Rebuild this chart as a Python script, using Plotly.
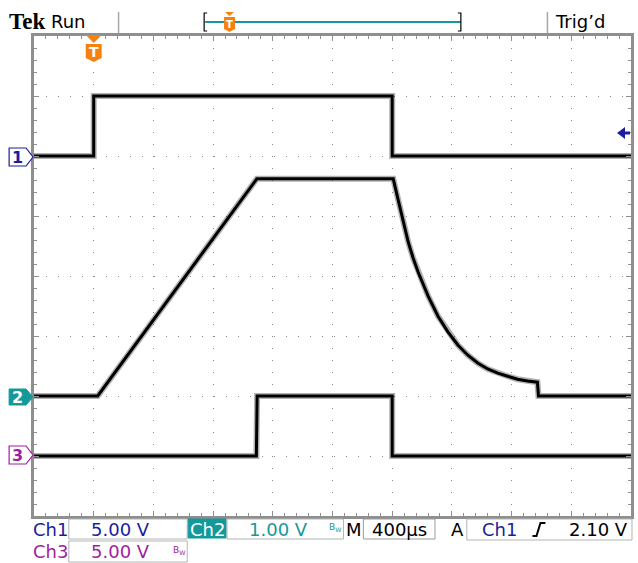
import plotly.graph_objects as go

# ---------------- data (read from the screen) ----------------
# time in microseconds (400 us/div, trigger 1 div from left)
ch1_t = [-400, 0, 0, 2000, 2000, 3600]
ch1_v = [0, 0, 5.0, 5.0, 0, 0]          # volts, 5 V/div

ch3_t = [-400, 1090, 1095, 2000, 2000, 3600]
ch3_v = [0, 0, 5.0, 5.0, 0, 0]          # volts, 5 V/div

ch2_t = [-400, 27, 1093, 2000, 2007, 2040, 2073, 2107, 2140, 2173, 2240, 2307,
         2373, 2440, 2507, 2573, 2640, 2707, 2773, 2840, 2907, 2973, 2980, 3600]
ch2_v = [0, 0, 3.62, 3.62, 3.62, 3.27, 2.90, 2.57, 2.30, 2.07, 1.67, 1.33,
         1.07, 0.85, 0.68, 0.55, 0.45, 0.38, 0.33, 0.28, 0.25, 0.23, 0, 0]

# ---------------- geometry helpers ----------------
W, H = 638, 563
L, T, PW, PH = 34, 36, 600, 480


def px(x):
    return (x - L) / PW


def py(y):
    return (T + PH - y) / PH


def path(pts, close=True):
    s = "M " + " L ".join(f"{px(x):.5f},{py(y):.5f}" for x, y in pts)
    return s + (" Z" if close else "")


BLUE = "#1c1c9e"
TEAL = "#14999a"
MAG = "#a01ea0"
ORANGE = "#f5820f"
GRID = "#8a8a8a"
FRAME = "#8f8f8f"
BOXC = "#b4b4b4"
FONT = "DejaVu Sans"

fig = go.Figure()
for t, v, ya in [(ch1_t, ch1_v, "y"), (ch2_t, ch2_v, "y2"), (ch3_t, ch3_v, "y3")]:
    fig.add_trace(go.Scatter(x=t, y=v, yaxis=ya, mode="lines",
                             line=dict(color="rgba(0,0,0,0.3)", width=6),
                             hoverinfo="skip", showlegend=False))
    fig.add_trace(go.Scatter(x=t, y=v, yaxis=ya, mode="lines",
                             line=dict(color="black", width=3),
                             hoverinfo="skip", showlegend=False))

fig.update_layout(
    width=W, height=H,
    margin=dict(l=L, r=W - L - PW, t=T, b=H - T - PH, pad=0),
    paper_bgcolor="white", plot_bgcolor="white",
    showlegend=False,
    xaxis=dict(range=[-400, 3600], dtick=400, tick0=0, showgrid=True,
               gridcolor=GRID, griddash="1px,11px", gridwidth=1,
               zeroline=False, showticklabels=False,
               showline=True, linecolor=FRAME, linewidth=3, mirror="ticks",
               ticks="inside", ticklen=5, tickcolor=FRAME, tickwidth=1,
               minor=dict(dtick=80, ticks="inside", ticklen=3, tickcolor=FRAME,
                          showgrid=False),
               fixedrange=True),
    yaxis=dict(range=[-30, 10], dtick=5, tick0=0, showgrid=True,
               gridcolor=GRID, griddash="1px,11px", gridwidth=1,
               zeroline=False, showticklabels=False,
               showline=True, linecolor=FRAME, linewidth=3, mirror="ticks",
               ticks="inside", ticklen=5, tickcolor=FRAME, tickwidth=1,
               minor=dict(dtick=1, ticks="inside", ticklen=3, tickcolor=FRAME,
                          showgrid=False),
               fixedrange=True),
    yaxis2=dict(range=[-2, 6], overlaying="y", visible=False, fixedrange=True),
    yaxis3=dict(range=[-5, 35], overlaying="y", visible=False, fixedrange=True),
)

shapes = []
ann = []


def text(x, y, s, color="black", size=18, xanchor="center", family=FONT, bold=False):
    if bold:
        s = f"<b>{s}</b>"
    ann.append(dict(x=px(x), y=py(y), xref="paper", yref="paper", text=s,
                    showarrow=False, xanchor=xanchor, yanchor="middle",
                    font=dict(color=color, size=size, family=family)))


def rect(x0, y0, x1, y1, line=BOXC, fill=None, width=1):
    shapes.append(dict(type="rect", xref="paper", yref="paper",
                       x0=px(x0), x1=px(x1), y0=py(y1), y1=py(y0),
                       line=dict(color=line, width=width),
                       fillcolor=fill if fill else "rgba(0,0,0,0)"))


def poly(pts, line=None, fill=None, width=1, close=True):
    shapes.append(dict(type="path", xref="paper", yref="paper", path=path(pts, close),
                       line=dict(color=line if line else "rgba(0,0,0,0)", width=width),
                       fillcolor=fill if fill else "rgba(0,0,0,0)"))


# ---------------- header ----------------
text(7, 21, "Tek", size=23, xanchor="left", family="Liberation Serif", bold=True)
text(49, 21, "Run", size=18, xanchor="left")
poly([(119, 12), (119, 33)], line="#a8a8a8", width=1.5, close=False)
poly([(550, 12), (550, 33)], line="#a8a8a8", width=1.5, close=False)
text(556, 21, "Trig’d", size=18, xanchor="left")
# record-length bar
poly([(206, 22), (463, 22)], line=TEAL, width=2, close=False)
poly([(208, 13), (205, 13), (205, 31), (208, 31)], line="black", width=1.2, close=False)
poly([(460, 13), (463, 13), (463, 31), (460, 31)], line="black", width=1.2, close=False)
poly([(226, 12), (235, 12), (230.5, 16)], fill=ORANGE)
poly([(225, 17), (236, 17), (236, 29), (230.5, 32), (225, 29)], fill=ORANGE)
text(230.5, 24, "T", color="white", size=10, bold=True)

# ---------------- trigger position marker ----------------
poly([(86, 35), (102, 35), (94, 43)], fill=ORANGE)
poly([(86, 44), (102, 44), (102, 58), (94, 62), (86, 58)], fill=ORANGE)
text(94, 52, "T", color="white", size=14, bold=True)

# ---------------- channel markers ----------------
poly([(9, 148), (26, 148), (33, 157), (26, 166), (9, 166)], line=BLUE, fill="white", width=1.2)
text(17, 157, "1", color=BLUE, size=16, bold=True)
poly([(9, 389), (26, 389), (33, 397), (26, 405), (9, 405)], line=TEAL, fill=TEAL, width=1)
text(17, 397, "2", color="white", size=16, bold=True)
poly([(9, 446), (26, 446), (33, 455), (26, 464), (9, 464)], line=MAG, fill="white", width=1.2)
text(17, 455, "3", color=MAG, size=16, bold=True)

# trigger level arrow (right)
poly([(620, 133), (628, 127), (628, 139)], fill=BLUE)
poly([(627, 133), (633, 133)], line=BLUE, width=3, close=False)

# ---------------- status bar ----------------
r1, r2 = 529, 551
text(31, r1, "Ch1", color=BLUE, size=18, xanchor="left")
rect(69, 519, 188, 539)
text(121, r1, "5.00 V", color=BLUE, size=18)
rect(189, 519, 227, 538, line=TEAL, fill=TEAL)
text(208, r1, "Ch2", color="white", size=18)
rect(228, 519, 345, 539)
text(280, r1, "1.00 V", color=TEAL, size=18)
text(337, r1 - 2, "B<sub>W</sub>", color=TEAL, size=9)
text(356, r1, "M", size=18)
rect(365, 519, 437, 539, line="#9a9a9a")
text(401, r1, "400µs", size=18)
text(460, r1, "A", size=18)
rect(469, 519, 635, 540)
text(502, r1, "Ch1", color=BLUE, size=18)
poly([(535, 536), (539, 536), (543, 523), (548, 523)], line="black", width=2, close=False)
text(633, r1, "2.10 V", size=18, xanchor="right")

text(31, r2, "Ch3", color=MAG, size=18, xanchor="left")
rect(69, 541, 188, 562)
text(121, r2, "5.00 V", color=MAG, size=18)
text(180, r2 - 1, "B<sub>W</sub>", color=MAG, size=9)

fig.update_layout(shapes=shapes, annotations=ann)
fig.write_html(
    "out.html",
    config={"displayModeBar": False, "staticPlot": True},
    post_script="document.body.style.margin='0';document.body.style.padding='0';"
                "document.body.style.overflow='hidden';",
)
